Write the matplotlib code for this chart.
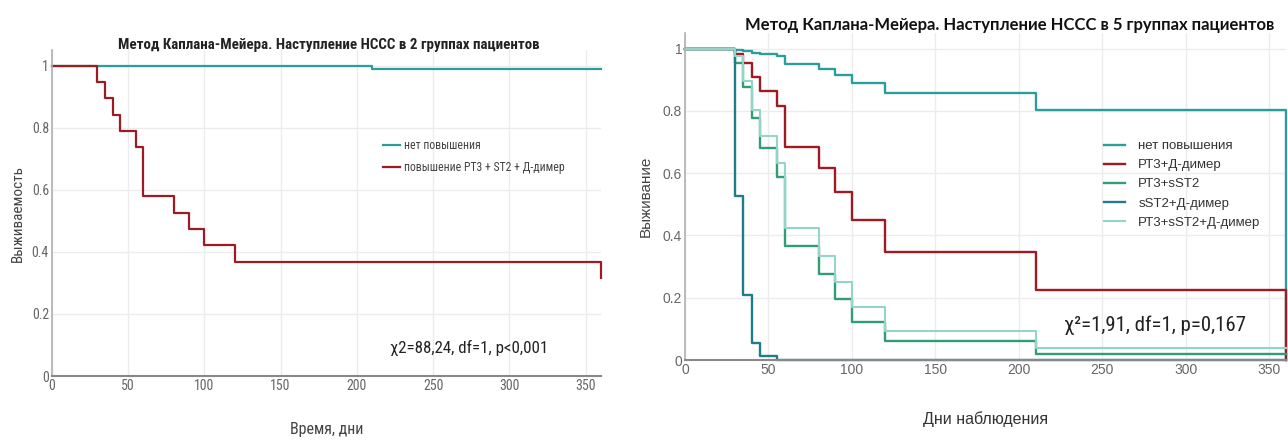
import matplotlib
matplotlib.use("Agg")
import matplotlib.pyplot as plt
from matplotlib import font_manager
import logging
logging.getLogger("matplotlib.font_manager").setLevel(logging.ERROR)

W, H = 1288, 440

# ---------------- data ----------------
# Left chart: 2 groups
left_t_no = [0, 210, 360]
left_s_no = [1.0, 0.99, 0.99]
left_t_rise = [0, 30, 35, 40, 45, 55, 60, 80, 90, 100, 120, 360]
left_s_rise = [1.0, 0.947, 0.895, 0.842, 0.789, 0.737, 0.579, 0.526, 0.474, 0.421, 0.368, 0.316]
left_labels = ["нет повышения", "повышение РТ3 + ST2 + Д-димер"]

# Right chart: 5 groups
r_t_no = [0, 30, 35, 40, 45, 55, 60, 80, 90, 100, 120, 210, 360]
r_s_no = [1.0, 0.997, 0.991, 0.986, 0.981, 0.975, 0.949, 0.933, 0.915, 0.891, 0.857, 0.804, 0.0]
r_t_pd = [0, 30, 35, 40, 45, 55, 60, 80, 90, 100, 120, 210, 360]
r_s_pd = [1.0, 0.984, 0.954, 0.908, 0.865, 0.815, 0.683, 0.617, 0.539, 0.451, 0.346, 0.226, 0.0]
r_t_ps = [0, 30, 35, 40, 45, 55, 60, 80, 90, 100, 120, 210, 360]
r_s_ps = [1.0, 0.954, 0.877, 0.778, 0.681, 0.588, 0.365, 0.277, 0.196, 0.123, 0.060, 0.018, 0.018]
r_t_sd = [0, 30, 35, 40, 45, 55, 360]
r_s_sd = [1.0, 0.526, 0.21, 0.053, 0.012, 0.0, 0.0]
r_t_all = [0, 30, 35, 40, 45, 55, 60, 80, 90, 100, 120, 210, 360]
r_s_all = [1.0, 0.976, 0.895, 0.804, 0.718, 0.633, 0.424, 0.335, 0.25, 0.171, 0.092, 0.037, 0.037]
right_labels = ["нет повышения", "РТ3+Д-димер", "РТ3+sST2", "sST2+Д-димер", "РТ3+sST2+Д-димер"]

xticks = [0, 50, 100, 150, 200, 250, 300, 350]
yticks = [0, 0.2, 0.4, 0.6, 0.8, 1.0]
ytick_labels = ["0", "0.2", "0.4", "0.6", "0.8", "1"]

# ---------------- fonts ----------------
installed = {f.name for f in font_manager.fontManager.ttflist}
narrow_candidates = ["Liberation Sans Narrow", "Noto Sans Condensed", "DejaVu Sans Condensed",
                     "Roboto Condensed", "Open Sans Condensed"]
narrow_found = [f for f in narrow_candidates if f in installed]
NARROW = narrow_found[:1] + ["Liberation Sans", "DejaVu Sans"]
HAS_NARROW = bool(narrow_found)
ARIAL = ["Liberation Sans", "DejaVu Sans"]
TITLE2 = ["Lato", "Open Sans", "DejaVu Sans"]
k = 1.0 if HAS_NARROW else 0.85  # shrink if no condensed face is available

c_teal = "#2a9d9c"
c_red = "#9e1b22"
c_green = "#2f9e74"
c_dark = "#217c8a"
c_light = "#95d4c9"
grid_c = "#ececec"
tick_c = "#666666"

fig = plt.figure(figsize=(W / 100, H / 100), dpi=100)


def px_axes(x0, y0, x1, y1):
    return fig.add_axes([x0 / W, 1 - y1 / H, (x1 - x0) / W, (y1 - y0) / H])


def style_axes(ax, fam, fs):
    ax.set_xlim(0, 360)
    ax.set_ylim(0, 1.05)
    ax.set_xticks(xticks)
    ax.set_yticks(yticks)
    ax.set_yticklabels(ytick_labels)
    ax.grid(True, color=grid_c, linewidth=1.0)
    ax.set_axisbelow(True)
    for s in ["top", "right"]:
        ax.spines[s].set_visible(False)
    ax.spines["left"].set_color("#b0b0b0")
    ax.spines["left"].set_linewidth(1.2)
    ax.spines["bottom"].set_color("#888888")
    ax.spines["bottom"].set_linewidth(1.5)
    ax.tick_params(length=0, pad=2, colors=tick_c, labelsize=fs)
    for lab in ax.get_xticklabels() + ax.get_yticklabels():
        lab.set_family(fam)
        lab.set_color(tick_c)


# ---------------- left chart ----------------
ax1 = px_axes(51.7, 50, 601, 376)
style_axes(ax1, NARROW, 10 * k)
ax1.step(left_t_no, left_s_no, where="post", color=c_teal, lw=1.6, label=left_labels[0], clip_on=False)
ax1.step(left_t_rise, left_s_rise, where="post", color=c_red, lw=1.6, label=left_labels[1], clip_on=False)
ax1.set_ylabel("Выживаемость", family=NARROW, fontsize=11 * k, color="#444444", labelpad=5)
ax1.set_xlabel("Время, дни", family=NARROW, fontsize=11.5 * k, color="#444444", labelpad=21)
fig.text(329 / W, 1 - 45 / H, "Метод Каплана-Мейера. Наступление НССС в 2 группах пациентов",
         family=NARROW, fontsize=10.8 * k, fontweight="bold",
         ha="center", va="center", color="#222222")
ax1.text(0.616, 0.087, "χ2=88,24, df=1, p<0,001", transform=ax1.transAxes, family=NARROW,
         fontsize=12.2 * k, color="#222222", ha="left", va="center")
leg1 = ax1.legend(loc="upper left", bbox_to_anchor=(383 / W, 1 - 139 / H), bbox_transform=fig.transFigure,
                  frameon=False, borderpad=0, borderaxespad=0, handlelength=1.45, handletextpad=0.3,
                  labelspacing=0.75, prop=font_manager.FontProperties(family=NARROW, size=8.5 * k))
for t in leg1.get_texts():
    t.set_color("#444444")

# ---------------- right chart ----------------
ax2 = px_axes(685, 33, 1286, 360)
style_axes(ax2, ARIAL, 10)
ax2.step(r_t_no, r_s_no, where="post", color=c_teal, lw=1.7, label=right_labels[0], clip_on=False)
ax2.step(r_t_pd, r_s_pd, where="post", color=c_red, lw=1.7, label=right_labels[1], clip_on=False)
ax2.step(r_t_ps, r_s_ps, where="post", color=c_green, lw=1.7, label=right_labels[2], clip_on=False)
ax2.step(r_t_sd, r_s_sd, where="post", color=c_dark, lw=1.7, label=right_labels[3], clip_on=False)
ax2.step(r_t_all, r_s_all, where="post", color=c_light, lw=1.5, label=right_labels[4], clip_on=False)
ax2.set_ylabel("Выживание", family=ARIAL, fontsize=11, color="#444444", labelpad=7)
ax2.set_xlabel("Дни наблюдения", family=ARIAL, fontsize=11.5, color="#333333", labelpad=25)
fig.text(1010 / W, 1 - 25 / H, "Метод Каплана-Мейера. Наступление НССС в 5 группах пациентов",
         family=TITLE2, fontsize=12, fontweight="bold", ha="center", va="center", color="#111111")
ax2.text(0.63, 0.105, "χ²=1,91, df=1, p=0,167", transform=ax2.transAxes, family=NARROW,
         fontsize=15 * (1.0 if HAS_NARROW else 0.87), color="#222222", ha="left", va="center")
leg2 = ax2.legend(loc="upper left", bbox_to_anchor=(1104 / W, 1 - 140 / H), bbox_transform=fig.transFigure,
                  frameon=False, borderpad=0, borderaxespad=0, handlelength=1.6, handletextpad=1.0,
                  labelspacing=0.52, prop=font_manager.FontProperties(family=ARIAL, size=9.5))
for t in leg2.get_texts():
    t.set_color("#333333")

fig.savefig("out.png", dpi=100)
